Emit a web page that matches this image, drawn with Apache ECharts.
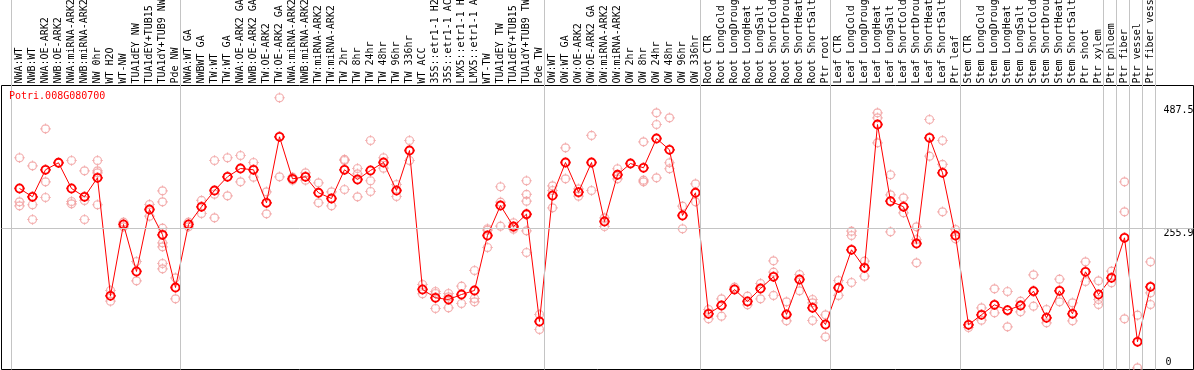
<!DOCTYPE html>
<html><head><meta charset="utf-8">
<script src="https://cdn.jsdelivr.net/npm/echarts@6/dist/echarts.min.js"></script>
<style>html,body{margin:0;padding:0;background:#fff;}#c{width:1194px;height:370px;}</style>
</head><body><div id="c"></div>
<script>
const chartTitle = 'Potri.008G080700';
const categories = [
 'NWA:WT','NWB:WT','NWA:OE-ARK2','NWB:OE-ARK2','NWA:miRNA-ARK2','NWB:miRNA-ARK2','NW 0hr','WT H2O','WT-NW','TUA1dEY NW','TUA1dEY+TUB15 NW','TUA1dY+TUB9 NW','Pde NW',
 'NWA:WT GA','NWBWT GA','TW:WT','TW:WT GA','NWA:OE-ARK2 GA','NWB:OE-ARK2 GA','TW:OE-ARK2','TW:OE-ARK2 GA','NWA:miRNA-ARK2','NWB:miRNA-ARK2','TW:miRNA-ARK2','TW:miRNA-ARK2','TW 2hr','TW 8hr','TW 24hr','TW 48hr','TW 96hr','TW 336hr','WT ACC','35S::etr1-1 H2O','35S::etr1-1 ACC','LMX5::etr1-1 H2O','LMX5::etr1-1 ACC','WT-TW','TUA1dEY TW','TUA1dEY+TUB15 TW','TUA1dY+TUB9 TW','Pde TW',
 'OW:WT','OW:WT GA','OW:OE-ARK2','OW:OE-ARK2 GA','OW:miRNA-ARK2','OW:miRNA-ARK2','OW 2hr','OW 8hr','OW 24hr','OW 48hr','OW 96hr','OW 336hr',
 'Root CTR','Root LongCold','Root LongDrought','Root LongHeat','Root LongSalt','Root ShortCold','Root ShortDrought','Root ShortHeat','Root ShortSalt','Ptr root',
 'Leaf CTR','Leaf LongCold','Leaf LongDrought','Leaf LongHeat','Leaf LongSalt','Leaf ShortCold','Leaf ShortDrought','Leaf ShortHeat','Leaf ShortSalt','Ptr leaf',
 'Stem CTR','Stem LongCold','Stem LongDrought','Stem LongHeat','Stem LongSalt','Stem ShortCold','Stem ShortDrought','Stem ShortHeat','Stem ShortSalt','Ptr shoot','Ptr xylem',
 'Ptr phloem','Ptr fiber','Ptr vessel','Ptr fiber vessel'
];
const groupSizes = [13, 28, 12, 10, 10, 11, 1, 1, 1, 1];
const means = [
 331.3,315.6,366.5,379.7,331.3,315.6,351.4,129.2,263.5,175.0,291.7,244.1,144.8,
 263.5,296.8,327.5,353.3,368.9,366.5,304.3,428.6,349.5,353.3,323.2,312.4,366.5,348.2,365.2,380.2,327.5,402.8,141.1,125.4,122.2,131.6,139.2,242.7,299.2,259.7,282.9,80.8,
 318.1,380.2,324.3,380.2,269.1,357.1,378.3,370.2,425.4,404.1,280.4,323.2,
 95.3,110.9,141.1,118.5,142.9,165.0,94.0,159.9,106.6,75.1,
 144.3,215.8,181.9,451.8,307.3,296.8,227.7,426.7,360.8,242.7,
 74.6,93.4,112.2,102.1,110.9,137.9,87.8,138.6,95.3,174.4,131.6,
 163.1,238.4,42.6,146.1
];
const replicates = [
 [389.1,306.2,298.7],[374.0,300.6,272.9],[443.7,343.9,314.3],[379.7],[384.0,306.8,302.4],[364.6,308.7,272.9],[384.0,364.6,360.8,300.6],[139.2,119.0],[267.8,259.1],[193.8,157.4],[301.1,279.1],[326.9,306.2,256.5,229.0,221.5,190.0,180.0],[163.1,123.5],
 [267.8,259.1],[308.7,284.2],[384.0,320.5,276.1],[389.1,317.5],[393.4,343.9],[380.2,352.5],[325.0,283.6],[502.1,353.3],[352.5,346.9],[360.8,346.9],[342.0,304.3],[325.0,298.7],[385.9,384.0,329.4],[368.9,358.9,315.6],[421.6,345.8,325.6],[389.1,369.5],[338.8,316.2],[421.6,384.0],[150.5,133.0],[137.3,133.5,105.3],[133.5,127.3,106.6],[147.3,114.7],[176.8,124.1,117.9],[255.4,252.7,220.1],[334.5,305.5,260.3],[266.7,257.8,254.6],[345.8,320.0,307.3,281.7,251.6,210.7],[94.0,65.7],
 [336.3,327.5,294.9],[407.9,349.5],[330.7,316.8],[431.1,327.5],[276.1,259.7],[368.4,349.5],[378.3],[419.2,346.9,343.9],[473.8,451.8,351.4],[464.4,379.7,368.4],[297.9,255.4],[340.1,306.2],
 [103.4,85.9],[123.5,90.8],[145.4],[128.4,112.2],[152.3,123.5],[195.1,173.6,129.8],[117.9,82.1],[169.3,138.6],[122.2,116.0,82.7],[93.4,52.0],
 [158.0,129.8],[250.8,242.7,154.2],[194.3,166.1],[473.8,464.4,417.3],[357.1,319.4,249.7],[313.7,285.5],[259.1,235.2,191.3],[461.2,392.1],[421.6,376.5,287.4],[254.0,236.5],
 [69.5],[106.6,83.2],[142.4,97.2],[137.3,70.8],[119.0,99.1],[168.7,109.6],[103.4,78.3],[160.4,117.9],[116.0,82.1],[193.2,156.1],[157.4,122.2,112.8],
 [175.5,153.7],[343.9,287.4,85.9],[92.7,-6.4],[193.2,134.8,112.8]
];
const topLabelValues = [487.5, 255.9];
const bottomLabelValues = [0];
const referenceLine = 255.9;

// ---- build ----
const X_MIN = -1.3846, X_MAX = 90.3077;
const Y_MIN = -9.6, Y_MAX = 525.2;
const meanData = means.map((v, i) => [i, v]);
const repData = [];
replicates.forEach((arr, i) => arr.forEach(v => repData.push([i, v])));
const boundaries = [0];
groupSizes.forEach(s => boundaries.push(boundaries[boundaries.length - 1] + s));
const sym = 'path://M0,-4A4,4,0,1,1,0,4A4,4,0,1,1,0,-4ZM0,-5.3L0,-3M0,3L0,5.3M-5.3,0L-3,0M3,0L5.3,0';
const mono = 'DejaVu Sans Mono';

const chart = echarts.init(document.getElementById('c'), null, {renderer: 'canvas'});
chart.setOption({
  animation: false,
  backgroundColor: '#fff',
  title: {
    text: chartTitle, left: 9, top: 91, padding: 0,
    textStyle: {color: '#ff0000', fontSize: 10, fontFamily: mono, fontWeight: 'normal'}
  },
  grid: [
    {left: 1.5, top: 85.5, right: 0.5, bottom: 0.5, show: true, borderColor: '#000', borderWidth: 1, backgroundColor: 'transparent', outerBoundsMode: 'none', containLabel: false},
    {left: 13, top: 85.5, right: 37, bottom: 0.5, outerBoundsMode: 'none', containLabel: false},
    {left: 1.5, top: 0, right: 0.5, bottom: 0.5, outerBoundsMode: 'none', containLabel: false}
  ],
  xAxis: [
    {gridIndex: 0, type: 'value', min: X_MIN, max: X_MAX, show: false},
    {gridIndex: 1, type: 'category', position: 'top', data: categories, boundaryGap: true,
     axisLine: {show: false}, axisTick: {show: false}, splitLine: {show: false},
     axisLabel: {interval: 0, rotate: 90, margin: 2, color: '#000', fontSize: 10, fontFamily: mono, hideOverlap: false}},
    {gridIndex: 2, type: 'value', min: X_MIN, max: X_MAX, show: false}
  ],
  yAxis: [
    {gridIndex: 0, type: 'value', min: Y_MIN, max: Y_MAX, position: 'right',
     axisLine: {show: false}, axisTick: {show: false}, splitLine: {show: false},
     axisLabel: {inside: true, margin: 30, align: 'left', verticalAlign: 'top', color: '#000', fontSize: 10, fontFamily: mono,
       customValues: topLabelValues, formatter: v => String(v)}},
    {gridIndex: 0, type: 'value', min: Y_MIN, max: Y_MAX, position: 'right',
     axisLine: {show: false}, axisTick: {show: false}, splitLine: {show: false},
     axisLabel: {inside: true, margin: 28, align: 'left', verticalAlign: 'bottom', lineHeight: 4, color: '#000', fontSize: 10, fontFamily: mono,
       customValues: bottomLabelValues, formatter: v => String(v)}},
    {gridIndex: 1, type: 'value', show: false},
    {gridIndex: 2, type: 'value', min: 0, max: 1, show: false}
  ],
  series: [
    {type: 'line', xAxisIndex: 2, yAxisIndex: 3, data: [[0, -1]], symbol: 'none', silent: true,
     lineStyle: {opacity: 0},
     markLine: {silent: true, symbol: 'none', label: {show: false},
       lineStyle: {color: '#c4c4c4', width: 1, type: 'solid'},
       data: boundaries.map(b => ({xAxis: b - 0.615}))}},
    {type: 'scatter', xAxisIndex: 0, yAxisIndex: 0, data: repData, symbol: sym, symbolSize: 10.6,
     itemStyle: {color: 'rgba(0,0,0,0)', borderColor: '#f09a9a', borderWidth: 1.2},
     markLine: {silent: true, symbol: 'none', label: {show: false},
       lineStyle: {color: '#c4c4c4', width: 1, type: 'solid'},
       data: [{yAxis: referenceLine}]}},
    {type: 'line', xAxisIndex: 0, yAxisIndex: 0, data: meanData, symbol: sym, symbolSize: 10.6,
     lineStyle: {color: '#ff0000', width: 1},
     itemStyle: {color: 'rgba(0,0,0,0)', borderColor: '#ff0000', borderWidth: 1.8}}
  ]
});
</script></body></html>
